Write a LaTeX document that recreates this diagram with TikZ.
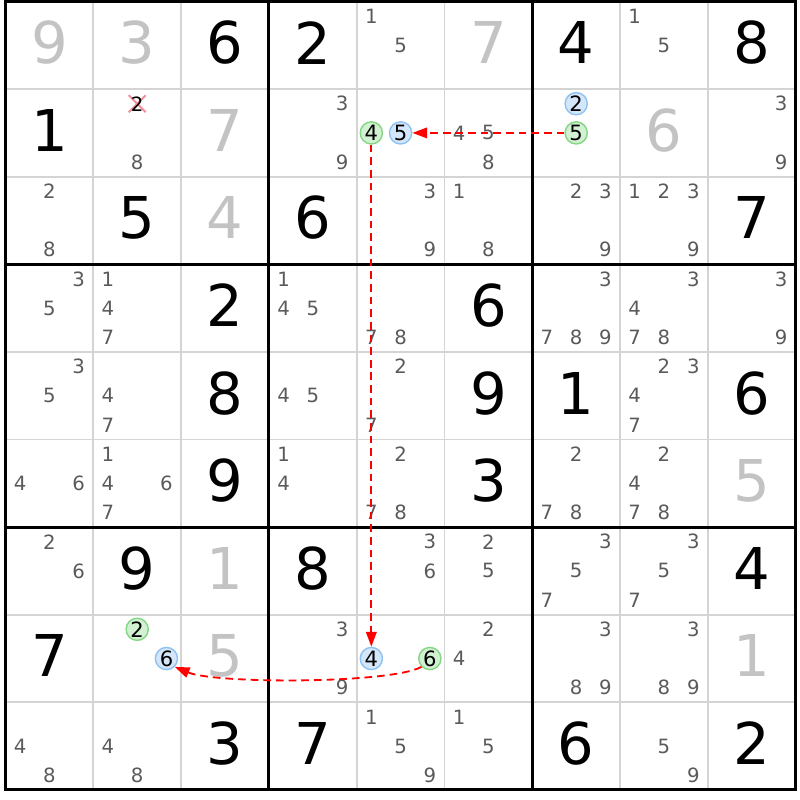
\documentclass[tikz,border=0pt]{standalone}
\usepackage{fontspec}
\setmainfont{DejaVu Sans}
\usetikzlibrary{arrows.meta}

\definecolor{pencil}{HTML}{5A5A5A}
\definecolor{solvedgray}{HTML}{C3C3C3}
\definecolor{gridgray}{HTML}{D4D4D4}
\definecolor{ongreen}{HTML}{D2F0D2}
\definecolor{ongreenline}{HTML}{84D684}
\definecolor{offblue}{HTML}{D4E6FA}
\definecolor{offblueline}{HTML}{8EC2F2}
\definecolor{crosspink}{HTML}{F08C98}

\begin{document}
\begin{tikzpicture}[x=2.195cm, y=-2.19cm,
  given/.style={font=\fontsize{41pt}{41pt}\selectfont, inner sep=0pt},
  solved/.style={given, text=solvedgray},
  cand/.style={font=\fontsize{14pt}{14pt}\selectfont, text=pencil, inner sep=0pt},
  oncand/.style={cand, font=\fontsize{15pt}{15pt}\selectfont, text=black, circle, minimum size=15.8pt, line width=1pt, draw=ongreenline, fill=ongreen},
  offcand/.style={oncand, draw=offblueline, fill=offblue},
  link/.style={red, line width=1.3pt, dash pattern=on 5.5pt off 3.5pt, -{Triangle[length=10.5pt, width=7.5pt]}},
  thinline/.style={gridgray, line width=1.4pt},
  thickline/.style={black, line width=2.1pt},
  cross/.style={crosspink, line width=1.4pt}
]
\useasboundingbox (-0.0626,-0.0171) rectangle (9.049,9.1153);

% Grid
\foreach \i in {1,2,4,5,7,8} {
  \draw[thinline] (0,\i) -- (9,\i);
  \draw[thinline] (\i,0) -- (\i,9);
}
\foreach \i in {3,6} {
  \draw[thickline] (0,\i) -- (9,\i);
  \draw[thickline] (\i,0) -- (\i,9);
}
\draw[thickline] (0,0) rectangle (9,9);

% Given digits
\foreach \rr/\cc/\vv in {1/3/6, 1/4/2, 1/7/4, 1/9/8, 2/1/1, 3/2/5, 3/4/6, 3/9/7,
  4/3/2, 4/6/6, 5/3/8, 5/6/9, 5/7/1, 5/9/6, 6/3/9, 6/6/3,
  7/2/9, 7/4/8, 7/9/4, 8/1/7, 9/3/3, 9/4/7, 9/7/6, 9/9/2}
  \node[given] (v\rr\cc) at (\cc-0.5, \rr-0.53) {\vv};

% Solved digits
\foreach \rr/\cc/\vv in {1/1/9, 1/2/3, 1/6/7, 2/3/7, 2/8/6, 3/3/4, 6/9/5, 7/3/1, 8/3/5, 8/9/1}
  \node[solved] (v\rr\cc) at (\cc-0.5, \rr-0.53) {\vv};

% Pencil marks
\foreach \rr/\cc/\ds in {1/5/{1,5}, 1/8/{1,5},
  2/2/{8}, 2/4/{3,9}, 2/6/{4,5,8}, 2/9/{3,9},
  3/1/{2,8}, 3/5/{3,9}, 3/6/{1,8}, 3/7/{2,3,9}, 3/8/{1,2,3,9},
  4/1/{3,5}, 4/2/{1,4,7}, 4/4/{1,4,5}, 4/5/{7,8}, 4/7/{3,7,8,9}, 4/8/{3,4,7,8}, 4/9/{3,9},
  5/1/{3,5}, 5/2/{4,7}, 5/4/{4,5}, 5/5/{2,7}, 5/8/{2,3,4,7},
  6/1/{4,6}, 6/2/{1,4,6,7}, 6/4/{1,4}, 6/5/{2,7,8}, 6/7/{2,7,8}, 6/8/{2,4,7,8},
  7/1/{2,6}, 7/5/{3,6}, 7/6/{2,5}, 7/7/{3,5,7}, 7/8/{3,5,7},
  8/4/{3,9}, 8/6/{2,4}, 8/7/{3,8,9}, 8/8/{3,8,9},
  9/1/{4,8}, 9/2/{4,8}, 9/5/{1,5,9}, 9/6/{1,5}, 9/8/{5,9}}
  \foreach \dd in \ds
    \node[cand] (c\rr\cc\dd) at ({\cc-0.5+(mod(\dd-1,3)-1)/3}, {\rr-0.5+(div(\dd-1,3)-1)/3}) {\dd};

% Eliminated candidate
\draw[cross] (1.403,1.07) -- (1.597,1.264) (1.403,1.264) -- (1.597,1.07);
\node[cand, text=black] (c222) at (1.5,1.1667) {2};

% Chain candidates
\node[oncand] (c254) at (4.1667,1.5) {4};
\node[offcand] (c255) at (4.5,1.5) {5};
\node[offcand] (c272) at (6.5,1.1667) {2};
\node[oncand] (c275) at (6.5,1.5) {5};
\node[oncand] (c822) at (1.5,7.1667) {2};
\node[offcand] (c826) at (1.8333,7.5) {6};
\node[offcand] (c854) at (4.1667,7.5) {4};
\node[oncand] (c856) at (4.8333,7.5) {6};

% Links
\draw[link] (c275) -- (c255);
\draw[link] (c254) -- (c854);
\draw[link] (c856.225) .. controls (4.38,7.79) and (2.39,7.79) .. (c826.-45);
\end{tikzpicture}
\end{document}
